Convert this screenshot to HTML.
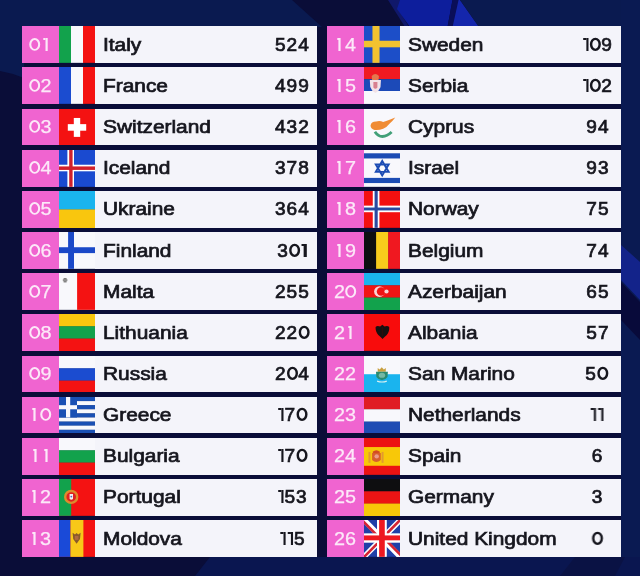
<!DOCTYPE html>
<html><head><meta charset="utf-8"><style>
html,body{margin:0;padding:0;}
body{-webkit-font-smoothing:antialiased;width:640px;height:576px;overflow:hidden;position:relative;background:#080b38;font-family:"Liberation Sans",sans-serif;}
.bg{position:absolute;left:0;top:0;width:640px;height:576px;}
.pk{position:absolute;height:36.85px;background:#f064d0;color:#fce8f8;font-size:18px;line-height:36.85px;text-align:center;}
.pk span{display:inline-block;will-change:transform;position:relative;top:0.5px;transform:scaleX(1.1);-webkit-text-stroke:0.25px #fce8f8;}
.fl{position:absolute;height:36.85px;display:block;}
.pn{position:absolute;height:36.85px;background:#f4f4fa;}
.nm{position:absolute;height:36.85px;line-height:36.85px;font-size:18px;color:#16161e;-webkit-text-stroke:0.7px #16161e;white-space:nowrap;transform:scaleX(1.16);transform-origin:0 0;will-change:transform;}
.pt{position:absolute;width:60px;text-align:center;height:36.85px;line-height:36.85px;font-size:18px;color:#16161e;-webkit-text-stroke:0.7px #16161e;}
.pt span{display:inline-block;will-change:transform;transform:scaleX(1.06);letter-spacing:0.9px;margin-right:-0.9px;}
.r1,.p1{display:inline-block;position:relative;height:12.9px;vertical-align:baseline;}
.r1{width:10px;} .p1{width:7px;}
.r0,.p0{display:inline-block;height:12.9px;vertical-align:baseline;overflow:visible;}
.r0{width:10.4px;} .p0{width:11px;}
.r1::before,.r1::after,.p1::before,.p1::after{content:"";position:absolute;top:0;background:currentColor;}
.r1::before{left:4.4px;width:1.8px;height:12.9px;} .r1::after{left:2.5px;width:2px;height:1.8px;}
.p1::before{left:3.5px;width:2.2px;height:12.9px;} .p1::after{left:1.4px;width:2.3px;height:2.2px;}
</style></head><body>
<svg class="bg" viewBox="0 0 640 576">
<rect width="640" height="576" fill="#0a0d38"/>
<path d="M0 0 L292 0 L322 27 L0 27 Z" fill="#0a1a50"/>
<path d="M0 0 L24 0 L24 78 Q12 73 0 71 Z" fill="#0a1a50"/>
<path d="M388 0 L402 0 L398 9 L409 27 L405 27 Z" fill="#10186a"/>
<path d="M400 0 L452.5 0 L447.5 27 L410 27 L397 9 Z" fill="#0d1e9c"/>
<path d="M452.5 0 L458.5 0 L452.5 27 L447.5 27 Z" fill="#0a0e58"/>
<path d="M458.5 0 L460 0 L479 27 L452.5 27 Z" fill="#1426ac"/>
<path d="M460 0 L640 0 L640 27 L479 27 Z" fill="#0a1a50"/>
<path d="M621 0 L640 0 L640 576 L621 576 Z" fill="#0a1a52"/>
<path d="M621 245 L640 262 L640 300 L621 280 Z" fill="#13238a"/>
<path d="M621 282 L640 302 L640 340 L621 320 Z" fill="#080a3a"/>
<path d="M210 557 L640 557 L640 576 L195 576 Z" fill="#0a1650"/>
<path d="M575 557 L625 557 L615 576 L560 576 Z" fill="#0a1244"/>
</svg>
<div class="pk" style="left:22px;top:26.30px;width:37px"><span><svg class="r0" viewBox="0 0 10.4 12.9"><ellipse cx="5.2" cy="6.45" rx="4.05" ry="5.45" fill="none" stroke="currentColor" stroke-width="1.9"/></svg><i class="r1"></i></span></div><svg class="fl" style="left:59px;top:26.30px;width:36px" viewBox="0 0 36 37" preserveAspectRatio="none"><rect x="0.00" y="0" width="12.30" height="37" fill="#12a24c"/><rect x="12.00" y="0" width="12.30" height="37" fill="#f8f8fc"/><rect x="24.00" y="0" width="12.30" height="37" fill="#f41212"/></svg><div class="pn" style="left:95px;top:26.30px;width:221.5px"></div><div class="nm" style="left:103px;top:26.80px">Italy</div><div class="pt" style="left:261.6px;top:26.80px"><span>524</span></div><div class="pk" style="left:22px;top:67.45px;width:37px"><span><svg class="r0" viewBox="0 0 10.4 12.9"><ellipse cx="5.2" cy="6.45" rx="4.05" ry="5.45" fill="none" stroke="currentColor" stroke-width="1.9"/></svg>2</span></div><svg class="fl" style="left:59px;top:67.45px;width:36px" viewBox="0 0 36 37" preserveAspectRatio="none"><rect x="0.00" y="0" width="12.30" height="37" fill="#1b4cd0"/><rect x="12.00" y="0" width="12.30" height="37" fill="#f8f8fc"/><rect x="24.00" y="0" width="12.30" height="37" fill="#f41212"/></svg><div class="pn" style="left:95px;top:67.45px;width:221.5px"></div><div class="nm" style="left:103px;top:67.95px">France</div><div class="pt" style="left:261.6px;top:67.95px"><span>499</span></div><div class="pk" style="left:22px;top:108.60px;width:37px"><span><svg class="r0" viewBox="0 0 10.4 12.9"><ellipse cx="5.2" cy="6.45" rx="4.05" ry="5.45" fill="none" stroke="currentColor" stroke-width="1.9"/></svg>3</span></div><svg class="fl" style="left:59px;top:108.60px;width:36px" viewBox="0 0 36 37" preserveAspectRatio="none"><rect width="36" height="37" fill="#f41212"/><rect x="8.8" y="15.2" width="18.4" height="6.6" fill="#fff"/><rect x="14.8" y="9" width="6.4" height="19" fill="#fff"/></svg><div class="pn" style="left:95px;top:108.60px;width:221.5px"></div><div class="nm" style="left:103px;top:109.10px">Switzerland</div><div class="pt" style="left:261.6px;top:109.10px"><span>432</span></div><div class="pk" style="left:22px;top:149.75px;width:37px"><span><svg class="r0" viewBox="0 0 10.4 12.9"><ellipse cx="5.2" cy="6.45" rx="4.05" ry="5.45" fill="none" stroke="currentColor" stroke-width="1.9"/></svg>4</span></div><svg class="fl" style="left:59px;top:149.75px;width:36px" viewBox="0 0 36 37" preserveAspectRatio="none"><rect width="36" height="37" fill="#1a4ad0"/><rect x="8.4" y="0" width="6.60" height="37" fill="#fff"/><rect x="0" y="14.8" width="36" height="6.60" fill="#fff"/><rect x="10.2" y="0" width="3.40" height="37" fill="#d0202c"/><rect x="0" y="16.5" width="36" height="3.50" fill="#d0202c"/></svg><div class="pn" style="left:95px;top:149.75px;width:221.5px"></div><div class="nm" style="left:103px;top:150.25px">Iceland</div><div class="pt" style="left:261.6px;top:150.25px"><span>378</span></div><div class="pk" style="left:22px;top:190.90px;width:37px"><span><svg class="r0" viewBox="0 0 10.4 12.9"><ellipse cx="5.2" cy="6.45" rx="4.05" ry="5.45" fill="none" stroke="currentColor" stroke-width="1.9"/></svg>5</span></div><svg class="fl" style="left:59px;top:190.90px;width:36px" viewBox="0 0 36 37" preserveAspectRatio="none"><rect x="0" y="0.00" width="36" height="18.80" fill="#1ab4ee"/><rect x="0" y="18.50" width="36" height="18.80" fill="#f9c60e"/></svg><div class="pn" style="left:95px;top:190.90px;width:221.5px"></div><div class="nm" style="left:103px;top:191.40px">Ukraine</div><div class="pt" style="left:261.6px;top:191.40px"><span>364</span></div><div class="pk" style="left:22px;top:232.05px;width:37px"><span><svg class="r0" viewBox="0 0 10.4 12.9"><ellipse cx="5.2" cy="6.45" rx="4.05" ry="5.45" fill="none" stroke="currentColor" stroke-width="1.9"/></svg>6</span></div><svg class="fl" style="left:59px;top:232.05px;width:36px" viewBox="0 0 36 37" preserveAspectRatio="none"><rect width="36" height="37" fill="#f8f8fc"/><rect x="9.1" y="0" width="5.90" height="37" fill="#1a48c8"/><rect x="0" y="15.3" width="36" height="5.90" fill="#1a48c8"/></svg><div class="pn" style="left:95px;top:232.05px;width:221.5px"></div><div class="nm" style="left:103px;top:232.55px">Finland</div><div class="pt" style="left:261.6px;top:232.55px"><span>3<svg class="p0" viewBox="0 0 11 12.9"><ellipse cx="5.5" cy="6.35" rx="4.05" ry="5.55" fill="none" stroke="currentColor" stroke-width="2.3"/></svg><i class="p1"></i></span></div><div class="pk" style="left:22px;top:273.20px;width:37px"><span><svg class="r0" viewBox="0 0 10.4 12.9"><ellipse cx="5.2" cy="6.45" rx="4.05" ry="5.45" fill="none" stroke="currentColor" stroke-width="1.9"/></svg>7</span></div><svg class="fl" style="left:59px;top:273.20px;width:36px" viewBox="0 0 36 37" preserveAspectRatio="none"><rect width="36" height="37" fill="#f8f8fc"/><rect x="18.1" width="18" height="37" fill="#f41212"/><rect x="4.6" y="5" width="3" height="4.5" fill="#808080"/><rect x="3.8" y="6.2" width="4.6" height="2" fill="#909090"/></svg><div class="pn" style="left:95px;top:273.20px;width:221.5px"></div><div class="nm" style="left:103px;top:273.70px">Malta</div><div class="pt" style="left:261.6px;top:273.70px"><span>255</span></div><div class="pk" style="left:22px;top:314.35px;width:37px"><span><svg class="r0" viewBox="0 0 10.4 12.9"><ellipse cx="5.2" cy="6.45" rx="4.05" ry="5.45" fill="none" stroke="currentColor" stroke-width="1.9"/></svg>8</span></div><svg class="fl" style="left:59px;top:314.35px;width:36px" viewBox="0 0 36 37" preserveAspectRatio="none"><rect x="0" y="0.00" width="36" height="12.63" fill="#f9c60e"/><rect x="0" y="12.33" width="36" height="12.63" fill="#12a24c"/><rect x="0" y="24.67" width="36" height="12.63" fill="#f41212"/></svg><div class="pn" style="left:95px;top:314.35px;width:221.5px"></div><div class="nm" style="left:103px;top:314.85px">Lithuania</div><div class="pt" style="left:261.6px;top:314.85px"><span>22<svg class="p0" viewBox="0 0 11 12.9"><ellipse cx="5.5" cy="6.35" rx="4.05" ry="5.55" fill="none" stroke="currentColor" stroke-width="2.3"/></svg></span></div><div class="pk" style="left:22px;top:355.50px;width:37px"><span><svg class="r0" viewBox="0 0 10.4 12.9"><ellipse cx="5.2" cy="6.45" rx="4.05" ry="5.45" fill="none" stroke="currentColor" stroke-width="1.9"/></svg>9</span></div><svg class="fl" style="left:59px;top:355.50px;width:36px" viewBox="0 0 36 37" preserveAspectRatio="none"><rect x="0" y="0.00" width="36" height="12.63" fill="#f8f8fc"/><rect x="0" y="12.33" width="36" height="12.63" fill="#1b4cd0"/><rect x="0" y="24.67" width="36" height="12.63" fill="#f41212"/></svg><div class="pn" style="left:95px;top:355.50px;width:221.5px"></div><div class="nm" style="left:103px;top:356.00px">Russia</div><div class="pt" style="left:261.6px;top:356.00px"><span>2<svg class="p0" viewBox="0 0 11 12.9"><ellipse cx="5.5" cy="6.35" rx="4.05" ry="5.55" fill="none" stroke="currentColor" stroke-width="2.3"/></svg>4</span></div><div class="pk" style="left:22px;top:396.65px;width:37px"><span><i class="r1"></i><svg class="r0" viewBox="0 0 10.4 12.9"><ellipse cx="5.2" cy="6.45" rx="4.05" ry="5.45" fill="none" stroke="currentColor" stroke-width="1.9"/></svg></span></div><svg class="fl" style="left:59px;top:396.65px;width:36px" viewBox="0 0 36 37" preserveAspectRatio="none"><rect x="0" y="0.00" width="36" height="4.31" fill="#1a50b4"/><rect x="0" y="4.11" width="36" height="4.31" fill="#f8f8fc"/><rect x="0" y="8.22" width="36" height="4.31" fill="#1a50b4"/><rect x="0" y="12.33" width="36" height="4.31" fill="#f8f8fc"/><rect x="0" y="16.44" width="36" height="4.31" fill="#1a50b4"/><rect x="0" y="20.56" width="36" height="4.31" fill="#f8f8fc"/><rect x="0" y="24.67" width="36" height="4.31" fill="#1a50b4"/><rect x="0" y="28.78" width="36" height="4.31" fill="#f8f8fc"/><rect x="0" y="32.89" width="36" height="4.31" fill="#1a50b4"/><rect x="0" y="0" width="18" height="20.56" fill="#1a50b4"/><rect x="7" y="0" width="4.2" height="20.56" fill="#f8f8fc"/><rect x="0" y="8.22" width="18" height="4.11" fill="#f8f8fc"/></svg><div class="pn" style="left:95px;top:396.65px;width:221.5px"></div><div class="nm" style="left:103px;top:397.15px">Greece</div><div class="pt" style="left:261.6px;top:397.15px"><span><i class="p1"></i>7<svg class="p0" viewBox="0 0 11 12.9"><ellipse cx="5.5" cy="6.35" rx="4.05" ry="5.55" fill="none" stroke="currentColor" stroke-width="2.3"/></svg></span></div><div class="pk" style="left:22px;top:437.80px;width:37px"><span><i class="r1"></i><i class="r1"></i></span></div><svg class="fl" style="left:59px;top:437.80px;width:36px" viewBox="0 0 36 37" preserveAspectRatio="none"><rect x="0" y="0.00" width="36" height="12.63" fill="#f8f8fc"/><rect x="0" y="12.33" width="36" height="12.63" fill="#12a24c"/><rect x="0" y="24.67" width="36" height="12.63" fill="#f41212"/></svg><div class="pn" style="left:95px;top:437.80px;width:221.5px"></div><div class="nm" style="left:103px;top:438.30px">Bulgaria</div><div class="pt" style="left:261.6px;top:438.30px"><span><i class="p1"></i>7<svg class="p0" viewBox="0 0 11 12.9"><ellipse cx="5.5" cy="6.35" rx="4.05" ry="5.55" fill="none" stroke="currentColor" stroke-width="2.3"/></svg></span></div><div class="pk" style="left:22px;top:478.95px;width:37px"><span><i class="r1"></i>2</span></div><svg class="fl" style="left:59px;top:478.95px;width:36px" viewBox="0 0 36 37" preserveAspectRatio="none"><rect width="36" height="37" fill="#f41212"/><rect width="12.2" height="37" fill="#12a24c"/><circle cx="12.2" cy="18" r="6" fill="#e02020" stroke="#dc8c2c" stroke-width="2.4"/><path d="M10.6 15 L14 15 L14 20 Q12.3 21.6 10.6 20 Z" fill="#f4eeee"/><circle cx="12.3" cy="17.6" r="0.9" fill="#4a6ac0"/></svg><div class="pn" style="left:95px;top:478.95px;width:221.5px"></div><div class="nm" style="left:103px;top:479.45px">Portugal</div><div class="pt" style="left:261.6px;top:479.45px"><span><i class="p1"></i>53</span></div><div class="pk" style="left:22px;top:520.10px;width:37px"><span><i class="r1"></i>3</span></div><svg class="fl" style="left:59px;top:520.10px;width:36px" viewBox="0 0 36 37" preserveAspectRatio="none"><rect width="36" height="37" fill="#f41212"/><rect width="11.5" height="37" fill="#1a4ad8"/><rect x="11.5" width="12.9" height="37" fill="#f8c818"/><path d="M13.6 12.7 L16 14.5 L17.6 13 L19.2 14.5 L21.6 12.7 L21 19 L17.6 23.8 L14.2 19 Z" fill="#8a5a2a"/><rect x="15.8" y="16" width="3.6" height="4" fill="#b06a40"/></svg><div class="pn" style="left:95px;top:520.10px;width:221.5px"></div><div class="nm" style="left:103px;top:520.60px">Moldova</div><div class="pt" style="left:261.6px;top:520.60px"><span><i class="p1"></i><i class="p1"></i>5</span></div><div class="pk" style="left:326.8px;top:26.30px;width:36.89999999999998px"><span><i class="r1"></i>4</span></div><svg class="fl" style="left:363.7px;top:26.30px;width:36.30000000000001px" viewBox="0 0 36 37" preserveAspectRatio="none"><rect width="36" height="37" fill="#1c4ec8"/><rect x="8.4" y="0" width="7.00" height="37" fill="#f2c230"/><rect x="0" y="14.8" width="36" height="6.60" fill="#f2c230"/></svg><div class="pn" style="left:400px;top:26.30px;width:221.0px"></div><div class="nm" style="left:407.7px;top:26.80px">Sweden</div><div class="pt" style="left:567.0px;top:26.80px"><span><i class="p1"></i><svg class="p0" viewBox="0 0 11 12.9"><ellipse cx="5.5" cy="6.35" rx="4.05" ry="5.55" fill="none" stroke="currentColor" stroke-width="2.3"/></svg>9</span></div><div class="pk" style="left:326.8px;top:67.45px;width:36.89999999999998px"><span><i class="r1"></i>5</span></div><svg class="fl" style="left:363.7px;top:67.45px;width:36.30000000000001px" viewBox="0 0 36 37" preserveAspectRatio="none"><rect width="36" height="12.2" fill="#f01a22"/><rect y="12.2" width="36" height="11.9" fill="#1c4ab8"/><rect y="24.1" width="36" height="13" fill="#f8f8fc"/><path d="M7.6 9 Q11.2 5 14.8 9 L14.4 13 L8 13 Z" fill="#e4784e"/><path d="M5.8 13 L16.8 13 L16.4 20 Q15 24 11.3 26.2 Q7.6 24 6.2 20 Z" fill="#f2e2e8"/><path d="M9.3 15 L13.3 15 L13.3 20.5 Q11.3 23 9.3 20.5 Z" fill="#d88090"/></svg><div class="pn" style="left:400px;top:67.45px;width:221.0px"></div><div class="nm" style="left:407.7px;top:67.95px">Serbia</div><div class="pt" style="left:567.0px;top:67.95px"><span><i class="p1"></i><svg class="p0" viewBox="0 0 11 12.9"><ellipse cx="5.5" cy="6.35" rx="4.05" ry="5.55" fill="none" stroke="currentColor" stroke-width="2.3"/></svg>2</span></div><div class="pk" style="left:326.8px;top:108.60px;width:36.89999999999998px"><span><i class="r1"></i>6</span></div><svg class="fl" style="left:363.7px;top:108.60px;width:36.30000000000001px" viewBox="0 0 36 37" preserveAspectRatio="none"><rect width="36" height="37" fill="#f8f8fc"/><path d="M6.5 16.5 Q7 12.5 12 12.5 Q16 11.5 19 13 Q23 12 26 10.5 L31 8.5 Q28.5 12 25.5 14.5 Q22.5 18.5 19 19.8 Q15 21.5 10.5 21 Q6.5 20 6.5 16.5 Z" fill="#f08c34"/><path d="M10.8 22.8 Q14 27.6 18.2 27.6 Q23 27.4 27.4 23.2" fill="none" stroke="#42a078" stroke-width="2.8"/></svg><div class="pn" style="left:400px;top:108.60px;width:221.0px"></div><div class="nm" style="left:407.7px;top:109.10px">Cyprus</div><div class="pt" style="left:567.0px;top:109.10px"><span>94</span></div><div class="pk" style="left:326.8px;top:149.75px;width:36.89999999999998px"><span><i class="r1"></i>7</span></div><svg class="fl" style="left:363.7px;top:149.75px;width:36.30000000000001px" viewBox="0 0 36 37" preserveAspectRatio="none"><rect width="36" height="37" fill="#f8f8fc"/><rect x="0" y="3.3" width="36" height="5.2" fill="#1c4cb4"/><rect x="0" y="28" width="36" height="5.2" fill="#1c4cb4"/><path d="M18.1 11 L24.5 22 L11.7 22 Z M18.1 25.6 L11.7 14.6 L24.5 14.6 Z" fill="none" stroke="#1c4cb4" stroke-width="1.9"/></svg><div class="pn" style="left:400px;top:149.75px;width:221.0px"></div><div class="nm" style="left:407.7px;top:150.25px">Israel</div><div class="pt" style="left:567.0px;top:150.25px"><span>93</span></div><div class="pk" style="left:326.8px;top:190.90px;width:36.89999999999998px"><span><i class="r1"></i>8</span></div><svg class="fl" style="left:363.7px;top:190.90px;width:36.30000000000001px" viewBox="0 0 36 37" preserveAspectRatio="none"><rect width="36" height="37" fill="#f41010"/><rect x="8.7" y="0" width="6.60" height="37" fill="#fff"/><rect x="0" y="14.7" width="36" height="6.60" fill="#fff"/><rect x="10.5" y="0" width="3.10" height="37" fill="#2a4aa0"/><rect x="0" y="16.6" width="36" height="2.90" fill="#2a4aa0"/></svg><div class="pn" style="left:400px;top:190.90px;width:221.0px"></div><div class="nm" style="left:407.7px;top:191.40px">Norway</div><div class="pt" style="left:567.0px;top:191.40px"><span>75</span></div><div class="pk" style="left:326.8px;top:232.05px;width:36.89999999999998px"><span><i class="r1"></i>9</span></div><svg class="fl" style="left:363.7px;top:232.05px;width:36.30000000000001px" viewBox="0 0 36 37" preserveAspectRatio="none"><rect x="0.00" y="0" width="12.30" height="37" fill="#0e0e10"/><rect x="12.00" y="0" width="12.30" height="37" fill="#f8cc1c"/><rect x="24.00" y="0" width="12.30" height="37" fill="#f01820"/></svg><div class="pn" style="left:400px;top:232.05px;width:221.0px"></div><div class="nm" style="left:407.7px;top:232.55px">Belgium</div><div class="pt" style="left:567.0px;top:232.55px"><span>74</span></div><div class="pk" style="left:326.8px;top:273.20px;width:36.89999999999998px"><span>2<svg class="r0" viewBox="0 0 10.4 12.9"><ellipse cx="5.2" cy="6.45" rx="4.05" ry="5.45" fill="none" stroke="currentColor" stroke-width="1.9"/></svg></span></div><svg class="fl" style="left:363.7px;top:273.20px;width:36.30000000000001px" viewBox="0 0 36 37" preserveAspectRatio="none"><rect x="0" y="0.00" width="36" height="12.63" fill="#1ab4ee"/><rect x="0" y="12.33" width="36" height="12.63" fill="#f01414"/><rect x="0" y="24.67" width="36" height="12.63" fill="#12a24c"/><circle cx="15.4" cy="18.6" r="5.4" fill="#f8d4d4"/><circle cx="17" cy="18.6" r="4.3" fill="#f01414"/><circle cx="22.3" cy="18.6" r="2.1" fill="#f8d4d4"/></svg><div class="pn" style="left:400px;top:273.20px;width:221.0px"></div><div class="nm" style="left:407.7px;top:273.70px">Azerbaijan</div><div class="pt" style="left:567.0px;top:273.70px"><span>65</span></div><div class="pk" style="left:326.8px;top:314.35px;width:36.89999999999998px"><span>2<i class="r1"></i></span></div><svg class="fl" style="left:363.7px;top:314.35px;width:36.30000000000001px" viewBox="0 0 36 37" preserveAspectRatio="none"><rect width="36" height="37" fill="#f80c0c"/><path d="M11.5 13 Q13 11.5 16 12.6 L18.2 10.8 L20.4 12.6 Q23.4 11.5 25 13 Q25.4 18 22.6 21 Q20.2 23 18.4 25 Q16.6 23 14.2 21 Q11.2 18 11.5 13 Z" fill="#181010"/><path d="M18.2 13 L18.2 22" stroke="#3a0a0a" stroke-width="0.8"/></svg><div class="pn" style="left:400px;top:314.35px;width:221.0px"></div><div class="nm" style="left:407.7px;top:314.85px">Albania</div><div class="pt" style="left:567.0px;top:314.85px"><span>57</span></div><div class="pk" style="left:326.8px;top:355.50px;width:36.89999999999998px"><span>22</span></div><svg class="fl" style="left:363.7px;top:355.50px;width:36.30000000000001px" viewBox="0 0 36 37" preserveAspectRatio="none"><rect width="36" height="37" fill="#f8f8fc"/><rect y="18.3" width="36" height="19" fill="#1ab4ee"/><path d="M13.6 15.8 L13.6 12 L15.5 13.5 L17.6 11.4 L19.7 13.5 L21.6 12 L21.6 15.8 Z" fill="#c8a040"/><path d="M11.9 15.9 L23.7 15.9 L23.3 21 Q20.5 24.5 17.8 24.2 Q15 24.5 12.3 21 Z" fill="#2a8a70"/><ellipse cx="17.8" cy="19.3" rx="3.2" ry="2.6" fill="#74b8a4"/><path d="M13 25.2 Q17.8 27 22.6 25.2" fill="none" stroke="#d8f0f0" stroke-width="1.2"/></svg><div class="pn" style="left:400px;top:355.50px;width:221.0px"></div><div class="nm" style="left:407.7px;top:356.00px">San Marino</div><div class="pt" style="left:567.0px;top:356.00px"><span>5<svg class="p0" viewBox="0 0 11 12.9"><ellipse cx="5.5" cy="6.35" rx="4.05" ry="5.55" fill="none" stroke="currentColor" stroke-width="2.3"/></svg></span></div><div class="pk" style="left:326.8px;top:396.65px;width:36.89999999999998px"><span>23</span></div><svg class="fl" style="left:363.7px;top:396.65px;width:36.30000000000001px" viewBox="0 0 36 37" preserveAspectRatio="none"><rect x="0" y="0.00" width="36" height="12.63" fill="#e01c24"/><rect x="0" y="12.33" width="36" height="12.63" fill="#f8f8fc"/><rect x="0" y="24.67" width="36" height="12.63" fill="#1f4cb4"/></svg><div class="pn" style="left:400px;top:396.65px;width:221.0px"></div><div class="nm" style="left:407.7px;top:397.15px">Netherlands</div><div class="pt" style="left:567.0px;top:397.15px"><span><i class="p1"></i><i class="p1"></i></span></div><div class="pk" style="left:326.8px;top:437.80px;width:36.89999999999998px"><span>24</span></div><svg class="fl" style="left:363.7px;top:437.80px;width:36.30000000000001px" viewBox="0 0 36 37" preserveAspectRatio="none"><rect width="36" height="37" fill="#ec1212"/><rect x="0" y="9.1" width="36" height="18.8" fill="#f8c808"/><rect x="4.4" y="14" width="2" height="11" fill="#e29a30"/><rect x="17.4" y="14" width="2" height="11" fill="#e29a30"/><path d="M8.6 13.8 Q12.2 10.6 15.8 13.8 L15.4 15.2 L9 15.2 Z" fill="#d44a22"/><path d="M8 15 L16.6 15 L16.6 22 Q12.3 26.2 8 22 Z" fill="#d85e2c"/><circle cx="12.6" cy="18.4" r="2.2" fill="#ec9a8a"/></svg><div class="pn" style="left:400px;top:437.80px;width:221.0px"></div><div class="nm" style="left:407.7px;top:438.30px">Spain</div><div class="pt" style="left:567.0px;top:438.30px"><span>6</span></div><div class="pk" style="left:326.8px;top:478.95px;width:36.89999999999998px"><span>25</span></div><svg class="fl" style="left:363.7px;top:478.95px;width:36.30000000000001px" viewBox="0 0 36 37" preserveAspectRatio="none"><rect x="0" y="0.00" width="36" height="12.63" fill="#0e0e10"/><rect x="0" y="12.33" width="36" height="12.63" fill="#ec1414"/><rect x="0" y="24.67" width="36" height="12.63" fill="#f8c808"/></svg><div class="pn" style="left:400px;top:478.95px;width:221.0px"></div><div class="nm" style="left:407.7px;top:479.45px">Germany</div><div class="pt" style="left:567.0px;top:479.45px"><span>3</span></div><div class="pk" style="left:326.8px;top:520.10px;width:36.89999999999998px"><span>26</span></div><svg class="fl" style="left:363.7px;top:520.10px;width:36.30000000000001px" viewBox="0 0 36 37" preserveAspectRatio="none"><rect width="36" height="37" fill="#1f3fa8"/><path d="M0 0 L36 37 M36 0 L0 37" stroke="#fff" stroke-width="5.4"/><path d="M-1 1.2 L17 19.7 M37 -1.2 L19 17.3 M-1 38.2 L17 19.7 M37 35.8 L19 17.3" stroke="#d42434" stroke-width="2.6"/><rect x="12.9" y="0" width="9.7" height="37" fill="#fff"/><rect x="0" y="13.4" width="36" height="9.4" fill="#fff"/><rect x="15" y="0" width="5.6" height="37" fill="#ee1820"/><rect x="0" y="15.5" width="36" height="4.9" fill="#ee1820"/></svg><div class="pn" style="left:400px;top:520.10px;width:221.0px"></div><div class="nm" style="left:407.7px;top:520.60px">United Kingdom</div><div class="pt" style="left:567.0px;top:520.60px"><span><svg class="p0" viewBox="0 0 11 12.9"><ellipse cx="5.5" cy="6.35" rx="4.05" ry="5.55" fill="none" stroke="currentColor" stroke-width="2.3"/></svg></span></div>
</body></html>
